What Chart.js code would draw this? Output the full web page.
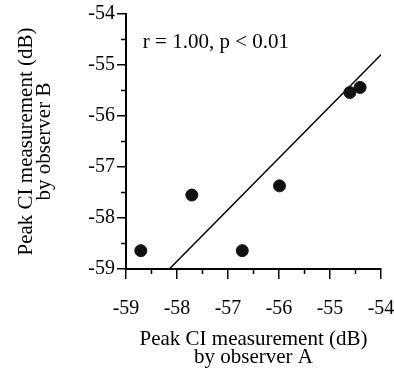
<!DOCTYPE html>
<html>
<head>
<meta charset="utf-8">
<script src="https://cdn.jsdelivr.net/npm/chart.js@4"></script>
<style>
  html, body { margin: 0; padding: 0; background: #fff; }
  canvas { display: block; }
</style>
</head>
<body>
<canvas id="myChart" width="394" height="374"></canvas>
<script>
// observer A vs observer B peak CI (dB)
var observerA = [-58.71, -57.71, -56.72, -55.99, -54.61, -54.41];
var observerB = [-58.64, -57.55, -58.64, -57.37, -55.54, -55.44];
// regression line end points
var fitX = [-58.15, -54.0];
var fitY = [-59.0, -54.8];
var tickValues = [-59, -58, -57, -56, -55, -54];
var statText = 'r = 1.00, p < 0.01';
var serif = '"Liberation Serif", "Times New Roman", serif';

var scatterPts = observerA.map(function (a, i) { return { x: a, y: observerB[i] }; });
var fitPts = fitX.map(function (a, i) { return { x: a, y: fitY[i] }; });

function fixBox(size) {
  return function (s) {
    if (s.isHorizontal()) s.height = size; else s.width = size;
    s.paddingLeft = 0; s.paddingRight = 0; s.paddingTop = 0; s.paddingBottom = 0;
  };
}

// short ticks at the half values + the r/p label
var extras = {
  id: 'extras',
  afterDraw: function (chart) {
    var ctx = chart.ctx, xs = chart.scales.x, ys = chart.scales.y, a = chart.chartArea;
    ctx.save();
    ctx.strokeStyle = '#000';
    ctx.lineWidth = 1.5;
    for (var v = -58.5; v < -54; v += 1) {
      var px = xs.getPixelForValue(v), py = ys.getPixelForValue(v);
      ctx.beginPath(); ctx.moveTo(px, a.bottom); ctx.lineTo(px, a.bottom + 5); ctx.stroke();
      ctx.beginPath(); ctx.moveTo(a.left, py); ctx.lineTo(a.left - 5, py); ctx.stroke();
    }
    ctx.fillStyle = '#000';
    ctx.font = '21px ' + serif;
    ctx.textBaseline = 'alphabetic';
    ctx.textAlign = 'left';
    ctx.fillText(statText, xs.getPixelForValue(-58.67), ys.getPixelForValue(-54.667));
    ctx.restore();
  }
};

var myChart = new Chart(document.getElementById('myChart'), {
  type: 'scatter',
  data: {
    datasets: [
      {
        data: scatterPts,
        backgroundColor: '#111',
        borderColor: '#111',
        pointRadius: 6,
        pointHoverRadius: 6
      },
      {
        data: fitPts,
        showLine: true,
        borderColor: '#000',
        borderWidth: 1.5,
        pointRadius: 0
      }
    ]
  },
  options: {
    responsive: false,
    animation: false,
    layout: { padding: { left: 0, top: 14, right: 13, bottom: 0 } },
    plugins: { legend: { display: false }, tooltip: { enabled: false } },
    scales: {
      x: {
        min: -59, max: -54,
        afterBuildTicks: function (s) { s.ticks = tickValues.map(function (v) { return { value: v }; }); },
        afterFit: fixBox(105),
        grid: { drawOnChartArea: false, tickLength: 10, color: '#000', lineWidth: 1.5 },
        border: { display: true, color: '#000', width: 2 },
        ticks: { color: '#000', padding: 18, font: { family: serif, size: 20 }, maxRotation: 0 },
        title: {
          display: true,
          text: ['Peak CI measurement (dB)', 'by observer A'],
          color: '#000',
          font: { family: serif, size: 21, lineHeight: 0.84 },
          padding: { top: 0, bottom: 8 }
        }
      },
      y: {
        min: -59, max: -54,
        afterBuildTicks: function (s) { s.ticks = tickValues.map(function (v) { return { value: v }; }); },
        afterFit: fixBox(126),
        grid: { drawOnChartArea: false, tickLength: 9, color: '#000', lineWidth: 1.5 },
        border: { display: true, color: '#000', width: 2 },
        ticks: { color: '#000', padding: 2, font: { family: serif, size: 20 } },
        title: {
          display: true,
          text: ['Peak CI measurement (dB)', 'by observer B'],
          color: '#000',
          font: { family: serif, size: 21, lineHeight: 0.84 },
          padding: { top: 18, bottom: 0 }
        }
      }
    }
  },
  plugins: [extras]
});
</script>
</body>
</html>
